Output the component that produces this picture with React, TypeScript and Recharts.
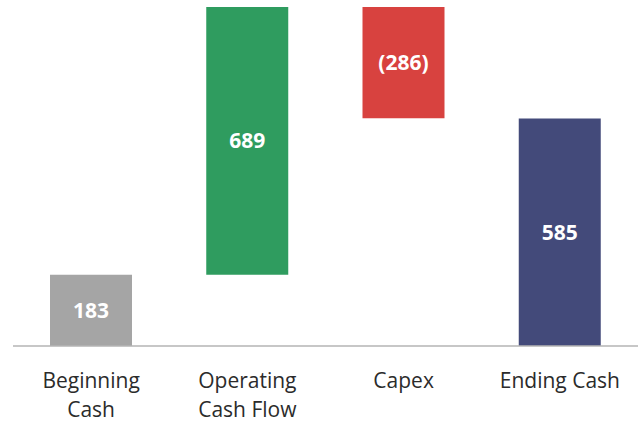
import { BarChart, Bar, XAxis, YAxis, Cell, LabelList } from "recharts";

const categories = ["Beginning\nCash", "Operating\nCash Flow", "Capex", "Ending Cash"];
const amounts = [183, 689, -286, 585];
const valueLabels = ["183", "689", "(286)", "585"];
const colors = ["#a5a5a5", "#2f9c5f", "#d8423f", "#434a7a"];

// running total gives the invisible base for the floating bars
let running = 0;
const data = categories.map((name, i) => {
  const isTotal = i === 0 || i === categories.length - 1;
  let base = 0;
  let size = Math.abs(amounts[i]);
  if (isTotal) {
    running = amounts[i];
  } else if (amounts[i] >= 0) {
    base = running;
    running += amounts[i];
  } else {
    running += amounts[i];
    base = running;
  }
  return { name, base, size, label: valueLabels[i] };
});

const CategoryTick = ({ x, y, payload }: any) => {
  const lines = String(payload.value).split("\n");
  return (
    <text
      x={x}
      y={y}
      textAnchor="middle"
      fill="#2b2b2b"
      fontSize={21}
      fontFamily="'Open Sans', sans-serif"
    >
      {lines.map((l, i) => (
        <tspan key={i} x={x} dy={i === 0 ? 34 : 29}>
          {l}
        </tspan>
      ))}
    </text>
  );
};

export default function App() {
  return (
    <div style={{ position: "absolute", left: 0, top: 0, background: "#fff" }}>
      <BarChart
        width={639}
        height={424}
        data={data}
        margin={{ top: 7, right: 1, left: 13, bottom: 0 }}
        barCategoryGap={0}
      >
        <YAxis hide domain={[0, 872]} />
        <XAxis
          dataKey="name"
          tickLine={false}
          axisLine={{ stroke: "#b5b5b5", strokeWidth: 1.5 }}
          height={78}
          interval={0}
          tick={<CategoryTick />}
        />
        <Bar dataKey="base" stackId="w" fill="transparent" barSize={82} isAnimationActive={false} />
        <Bar dataKey="size" stackId="w" barSize={82} isAnimationActive={false}>
          {data.map((_, i) => (
            <Cell key={i} fill={colors[i]} />
          ))}
          <LabelList
            dataKey="label"
            position="center"
            fill="#fff"
            fontSize={21}
            fontWeight={700}
            fontFamily="'Open Sans', sans-serif"
          />
        </Bar>
      </BarChart>
    </div>
  );
}
